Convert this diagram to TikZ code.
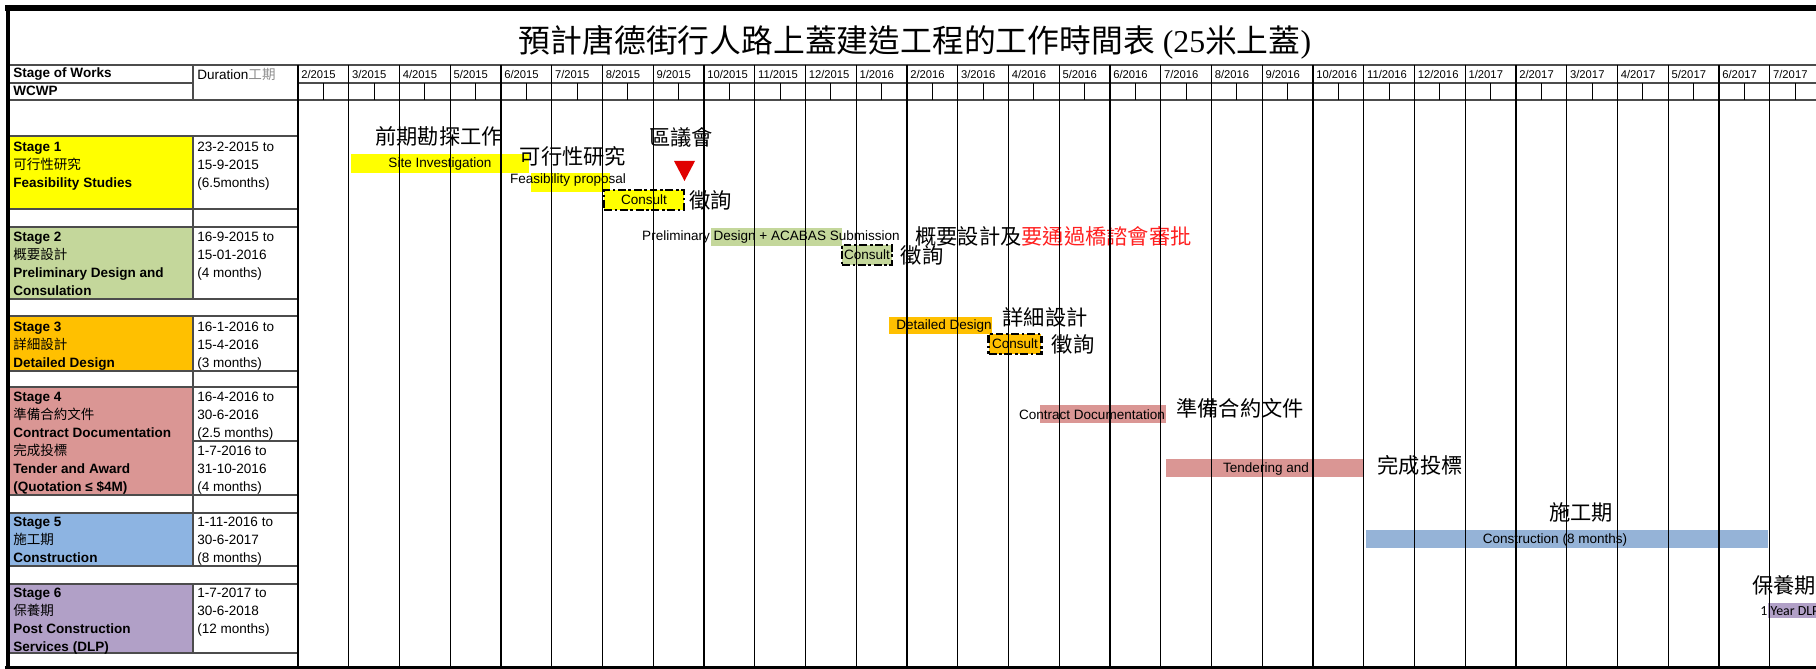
\documentclass[tikz,border=0pt]{standalone}
\usepackage{fontspec}
\setmainfont{Liberation Serif}
\setsansfont{Liberation Sans}
\newfontfamily\cjk{Noto Sans CJK TC}
\newfontfamily\calib{Carlito}
\usepackage{xcolor}
\usepackage{tikz}
\usetikzlibrary{positioning}

\definecolor{stageyellow}{HTML}{FFFF00}
\definecolor{stagegreen}{HTML}{C4D79B}
\definecolor{stageorange}{HTML}{FFC000}
\definecolor{stagered}{HTML}{DA9694}
\definecolor{stageblue}{HTML}{8DB4E2}
\definecolor{stagepurple}{HTML}{B1A0C7}
\definecolor{barblue}{HTML}{95B3D7}
\definecolor{notered}{HTML}{FF2020}
\definecolor{markred}{HTML}{E00000}

\begin{document}
\begin{tikzpicture}[x=0.02cm, y=-0.02cm,
  rule/.style={draw=black!70, line width=0.8pt},
  monthline/.style={draw=black, line width=0.65pt},
  cell/.style={anchor=north west, inner sep=0pt, align=left, font=\sffamily\fontsize{7.7}{10.24}\selectfont},
  stagetext/.style={cell, font=\sffamily\bfseries\fontsize{7.7}{10.24}\selectfont},
  head/.style={anchor=west, inner sep=0pt, font=\sffamily\bfseries\fontsize{7.7}{9}\selectfont},
  month/.style={anchor=west, inner sep=0pt, font=\sffamily\fontsize{6.4}{7}\selectfont},
  note/.style={inner sep=0pt, font=\cjk\fontsize{12.1}{14}\selectfont},
  barlab/.style={inner sep=0pt, font=\sffamily\fontsize{7.7}{9}\selectfont},
  consult/.style={draw=black, line width=1.5pt, dash pattern=on 4.5pt off 1.5pt on 1.5pt off 1.5pt,
    inner sep=0pt, minimum height=11.4pt, font=\sffamily\fontsize{7.7}{9}\selectfont}
]
\useasboundingbox (0,0) rectangle (1816,669);

% Title
\node[inner sep=0pt, font=\fontsize{18.1}{20}\selectfont] (title) at (915,42)
  {{\cjk 預計唐德街行人路上蓋建造工程的工作時間表} (25{\cjk 米上蓋})};

% Stage cells
\fill[stageyellow] (10,136) rectangle (193,209);
\fill[stagegreen] (10,227) rectangle (193,299);
\fill[stageorange] (10,316) rectangle (193,371);
\fill[stagered] (10,387) rectangle (193,495);
\fill[stageblue] (10,513) rectangle (193,566);
\fill[stagepurple] (10,584) rectangle (193,653);

% Table rules
\draw[rule] (10,65) -- (1816,65);
\draw[rule] (10,83) -- (193,83);
\draw[rule] (298,83) -- (1816,83);
\draw[rule] (10,100) -- (1816,100);
\draw[rule] (193,65) -- (193,100);
\foreach \r in {136,209,227,299,316,371,387,495,513,566,584,653}
  \draw[rule] (10,\r) -- (298,\r);
\draw[rule] (193,441) -- (298,441);
\draw[rule] (193,136) -- (193,299);
\draw[rule] (193,316) -- (193,566);
\draw[rule] (193,584) -- (193,653);

% Header
\node[head] (works) at (13,74) {Stage of Works};
\node[head] (wcwp) at (13,91) {WCWP};
\node[head, font=\sffamily\fontsize{7.7}{9}\selectfont] (duration) at (197,74)
  {Duration{\cjk\color{black!45}工期}};
\foreach \mo/\yr [count=\m from 0] in {2/2015,3/2015,4/2015,5/2015,6/2015,7/2015,8/2015,9/2015,
    10/2015,11/2015,12/2015,1/2016,2/2016,3/2016,4/2016,5/2016,6/2016,7/2016,8/2016,9/2016,
    10/2016,11/2016,12/2016,1/2017,2/2017,3/2017,4/2017,5/2017,6/2017,7/2017}
  \node[month] (mon\m) at ({298+50.75*\m+3},74) {\mo/\yr};

% Stage texts
\node[stagetext] (s1) at (13,142) {Stage 1\\{\cjk\mdseries 可行性研究}\\Feasibility Studies};
\node[cell] (d1) at (197,142) {23-2-2015 to\\15-9-2015\\(6.5months)};
\node[stagetext] (s2) at (13,232) {Stage 2\\{\cjk\mdseries 概要設計}\\Preliminary Design and\\Consulation};
\node[cell] (d2) at (197,232) {16-9-2015 to\\15-01-2016\\(4 months)};
\node[stagetext] (s3) at (13,322) {Stage 3\\{\cjk\mdseries 詳細設計}\\Detailed Design};
\node[cell] (d3) at (197,322) {16-1-2016 to\\15-4-2016\\(3 months)};
\node[stagetext] (s4) at (13,392) {Stage 4\\{\cjk\mdseries 準備合約文件}\\Contract Documentation\\{\cjk\mdseries 完成投標}\\Tender and Award\\(Quotation ≤ \$4M)};
\node[cell] (d4) at (197,392) {16-4-2016 to\\30-6-2016\\(2.5 months)\\1-7-2016 to\\31-10-2016\\(4 months)};
\node[stagetext] (s5) at (13,517) {Stage 5\\{\cjk\mdseries 施工期}\\Construction};
\node[cell] (d5) at (197,517) {1-11-2016 to\\30-6-2017\\(8 months)};
\node[stagetext] (s6) at (13,588) {Stage 6\\{\cjk\mdseries 保養期}\\Post Construction\\Services (DLP)};
\node[cell] (d6) at (197,588) {1-7-2017 to\\30-6-2018\\(12 months)};

% Bars
\fill[stageyellow] (351,154) rectangle (529,173);
\fill[stageyellow] (531,173) rectangle (610,192);
\fill[stagegreen] (711,228) rectangle (842,246);
\fill[stageorange] (889,317) rectangle (992,334);
\fill[stagered] (1040,405) rectangle (1166,423);
\fill[stagered] (1166,459) rectangle (1364,477);
\fill[barblue] (1366,530) rectangle (1768,548);
\fill[stagepurple] (1768,603) rectangle (1830,618);

\node[barlab] (sitelab) at (440,164) {Site Investigation};
\node[barlab] (feaslab) at (568,180) {Feasibility proposal};
\node[barlab] (prelab) at (771,237) {Preliminary Design + ACABAS Submission};
\node[barlab] (detlab) at (944,326) {Detailed Design};
\node[barlab] (conlab) at (1092,415) {Contract Documentation};
\node[barlab] (tenlab) at (1266,469) {Tendering and};
\node[barlab] (constlab) at (1555,540) {Construction (8 months)};
\node[barlab, anchor=west, font=\calib\fontsize{7.9}{9}\selectfont] (dlplab) at (1760,611) {1 Year DLP};

% Consultation boxes
\node[consult, fill=stageyellow, minimum width=45.5pt] (c1) at (644,200) {Consult};
\node[consult, fill=stagegreen, minimum width=28.5pt] (c2) at (867,255) {Consult};
\node[consult, fill=stageorange, minimum width=30pt] (c3) at (1015,344) {Consult};
\node[note, right=2pt of c1] (c1note) {徵詢};
\node[note, right=4pt of c2] (c2note) {徵詢};
\node[note, right=5pt of c3] (c3note) {徵詢};

% District council mark
\fill[markred] (674,161) -- (695,161) -- (684.5,181) -- cycle;

% Notes
\node[note] (sitenote) at (439,136) {前期勘探工作};
\node[note] (feasnote) at (573,156) {可行性研究};
\node[note] (council) at (681,137) {區議會};
\node[note, anchor=west] (prenote) at (915,236) {概要設計及\textcolor{notered}{要通過橋諮會審批}};
\node[note] (detnote) at (1045,317) {詳細設計};
\node[note] (connote) at (1240,408) {準備合約文件};
\node[note] (tennote) at (1420,465) {完成投標};
\node[note] (constnote) at (1581,512) {施工期};
\node[note] (dlpnote) at (1784,585) {保養期};

% Month grid
\foreach \m in {1,...,29}
  \draw[monthline] ({298+50.75*\m},65) -- ({298+50.75*\m},667);
\foreach \m in {0,...,29}
  \draw[monthline] ({298+50.75*\m+25.375},83) -- ({298+50.75*\m+25.375},100);
\draw[line width=1.3pt] (298,65) -- (298,667);

% Frame
\draw[line width=3.4pt] (5,8) -- (1816,8);
\draw[line width=2.6pt] (8,5) -- (8,669);
\draw[line width=2pt] (5,667.5) -- (1816,667.5);
\end{tikzpicture}
\end{document}
